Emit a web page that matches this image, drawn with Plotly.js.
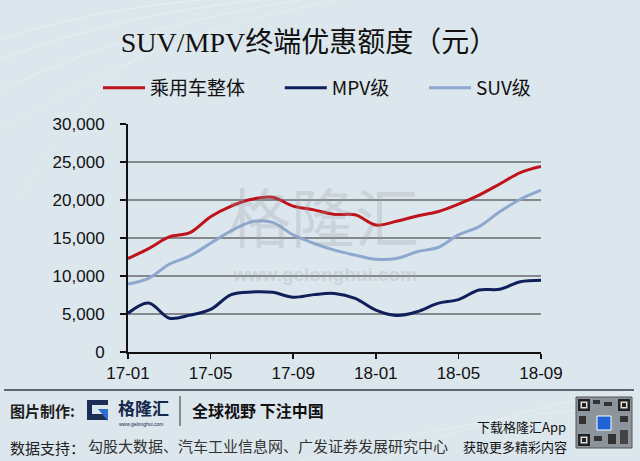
<!DOCTYPE html>
<html>
<head>
<meta charset="utf-8">
<script src="https://cdn.plot.ly/plotly-3.0.1.min.js"></script>
<style>
html,body{margin:0;padding:0;background:#dce6ed;}
#chart{width:640px;height:461px;}
</style>
</head>
<body>
<div id="chart"></div>
<script>
// ---- data ----
var months = ['17-01','17-02','17-03','17-04','17-05','17-06','17-07','17-08','17-09','17-10','17-11','17-12',
              '18-01','18-02','18-03','18-04','18-05','18-06','18-07','18-08','18-09'];
var tickLabels = ['17-01','17-05','17-09','18-01','18-05','18-09'];
var seriesNames = ['乘用车整体','MPV级','SUV级'];
var overall = [12300,13600,15150,15700,17800,19200,20100,20350,19200,18700,18100,18050,
               16700,17200,17900,18450,19450,20650,22100,23600,24400];
var mpv     = [5100,6450,4450,4850,5600,7550,7900,7850,7200,7550,7700,7050,
               5500,4800,5300,6400,6900,8150,8250,9250,9450];
var suv     = [8950,9700,11550,12650,14300,15950,17150,17050,15400,14300,13400,12750,
               12200,12300,13200,13750,15400,16500,18450,20100,21300];
var yTicks = [0,5000,10000,15000,20000,25000,30000];

var colors = ['#bf121b','#0f1f5a','#8ea7cf'];
var pad = '\u00A0\u00A0\u00A0\u00A0\u00A0\u00A0\u00A0';

function mk(name, y, c){
  return {x: months, y: y, name: name + pad, type:'scatter', mode:'lines',
          line:{color:c, width:3, shape:'spline', smoothing:1}};
}
var traces = [mk(seriesNames[0], overall, colors[0]),
              mk(seriesNames[1], mpv, colors[1]),
              mk(seriesNames[2], suv, colors[2])];

var L = 128, R = 541, T = 124, B = 352, W = 640, H = 461;
function px2paperX(px){ return (px - L)/(R - L); }
function px2paperY(py){ return (B - py)/(B - T); }

var cjk = '"Noto Sans CJK SC", "Noto Sans", sans-serif';
function note(x, y, text, size, color, anchor, family){
  return {xref:'paper', yref:'paper', x:px2paperX(x), y:px2paperY(y), xanchor:anchor||'left', yanchor:'middle',
          text:text, showarrow:false, font:{family:family||cjk, size:size, color:color}};
}
var annotations = [
  // watermark
  note(323, 214, '格隆汇', 64, 'rgba(150,158,166,0.26)', 'center'),
  note(324, 274, '<b>www.gelonghui.com</b>', 19, 'rgba(150,158,166,0.26)', 'center', '"Liberation Sans", Arial, sans-serif'),
  // footer
  note(8, 410, '<b>图片制作:</b>', 15, '#1e1e1e'),
  note(116, 407, '<b>格隆汇</b>', 17, '#14284e'),
  note(117, 424, 'www.gelonghui.com', 5, '#14284e', 'left', '"Liberation Sans", Arial'),
  note(190, 410, '<b>全球视野 下注中国</b>', 16, '#111'),
  note(8, 447, '数据支持：', 15, '#222'),
  note(86, 447, '勾股大数据、汽车工业信息网、广发证券发展研究中心', 15, '#333', 'left', '"Liberation Serif", "Noto Sans CJK SC", serif'),
  note(568, 426, '下载格隆汇App', 13, '#111', 'right'),
  note(569, 446, '获取更多精彩内容', 13, '#111', 'right')
];

function rect(x0,y0,x1,y1,fill,line){
  return {type:'rect', xref:'paper', yref:'paper', x0:px2paperX(x0), x1:px2paperX(x1), y0:px2paperY(y0), y1:px2paperY(y1),
          fillcolor:fill, line: line || {width:0}, layer:'above'};
}
function curve(x0,y0,cx1,cy1,cx2,cy2,x1,y1,col){
  function P(x,y){ return px2paperX(x)+' '+px2paperY(y); }
  return {type:'path', xref:'paper', yref:'paper', layer:'below',
          path:'M '+P(x0,y0)+' C '+P(cx1,cy1)+' '+P(cx2,cy2)+' '+P(x1,y1),
          line:{color:col, width:1}};
}
var shapes = [
  // background swooshes (decoration)
  curve(0,60, 80,30, 160,10, 260,0, 'rgba(255,255,255,0.35)'),
  curve(0,90, 90,50, 170,20, 300,0, 'rgba(255,255,255,0.30)'),
  curve(0,130, 100,70, 200,25, 340,0, 'rgba(255,255,255,0.25)'),
  curve(0,40, 60,20, 120,8, 200,0, 'rgba(255,255,255,0.35)'),
  curve(20,200, 60,120, 120,60, 220,0, 'rgba(255,255,255,0.20)'),
  curve(380,461, 480,420, 560,400, 640,390, 'rgba(255,255,255,0.30)'),
  curve(300,461, 420,430, 540,410, 640,405, 'rgba(255,255,255,0.25)'),
  // footer separator
  {type:'line', xref:'paper', yref:'paper', x0:px2paperX(4), x1:px2paperX(634), y0:px2paperY(390), y1:px2paperY(390),
   line:{color:'#5b6670', width:2}},
  // logo separator
  {type:'line', xref:'paper', yref:'paper', x0:px2paperX(180), x1:px2paperX(180), y0:px2paperY(396), y1:px2paperY(426),
   line:{color:'#333', width:1}},
  // logo square
  rect(87,420,108,400,'#1d2e55'),
  rect(92,414,108,405,'#dce6ed'),
  {type:'path', xref:'paper', yref:'paper', layer:'above',
   path:'M '+px2paperX(98)+' '+px2paperY(409)+' L '+px2paperX(108)+' '+px2paperY(409)+' L '+px2paperX(108)+' '+px2paperY(421)+' Z',
   fillcolor:'#2a6fd0', line:{width:0}},
  // QR code box
  rect(576,448,632,397,'#8d959c',{color:'#555', width:1}),
  rect(578,411,590,399,'#222'), rect(580.5,408.5,587.5,401.5,'#ddd'), rect(582,407,586,403,'#222'),
  rect(618,411,630,399,'#222'), rect(620.5,408.5,627.5,401.5,'#ddd'), rect(622,407,626,403,'#222'),
  rect(578,446,590,434,'#222'), rect(580.5,443.5,587.5,436.5,'#ddd'), rect(582,442,586,438,'#222'),
  rect(593,400,600,404,'#333'), rect(604,402,612,406,'#333'), rect(594,436,602,441,'#333'),
  rect(608,434,616,444,'#333'), rect(620,416,628,422,'#333'), rect(579,416,586,424,'#333'),
  rect(620,430,628,444,'#444'),
  rect(597,430,611,416,'#1f62d6',{color:'#fff', width:1})
];

var layout = {
  width: 640, height: 461,
  paper_bgcolor: '#dce6ed',
  plot_bgcolor: 'rgba(0,0,0,0)',
  margin: {l: L, r: W - R, t: T, b: H - B, pad: 0},
  title: {text: 'SUV/MPV终端优惠额度（元）', x: 309/640, xanchor:'center', y: 1 - 42/461, yanchor:'middle',
          font: {family: '"Liberation Serif", "Noto Sans CJK SC", serif', size: 28, color:'#111'}},
  showlegend: true,
  legend: {orientation:'h', x: px2paperX(98), xanchor:'left', y: px2paperY(88), yanchor:'middle',
           font:{family:cjk, size:19, color:'#111'}, itemwidth: 42, bgcolor:'rgba(0,0,0,0)',
           traceorder:'normal'},
  xaxis: {type:'category', range:[0, months.length-1], tickvals: tickLabels, ticktext: tickLabels,
          showline:true, linecolor:'#111', linewidth:2, ticks:'outside', ticklen:5, tickwidth:1.5, tickcolor:'#111',
          showgrid:false, zeroline:false, tickfont:{family:'"Liberation Sans", Arial, sans-serif', size:17, color:'#111'},
          fixedrange:true},
  yaxis: {range:[0, 30000], tickvals: yTicks, tickformat:',', showline:true, linecolor:'#111', linewidth:2,
          ticks:'outside', ticklen:6, tickwidth:1.5, tickcolor:'#111',
          showgrid:true, gridcolor:'#85898e', gridwidth:1.5, zeroline:false,
          tickfont:{family:'"Liberation Sans", Arial, sans-serif', size:17, color:'#111'}, ticklabelstandoff: 12,
          fixedrange:true},
  annotations: annotations,
  shapes: shapes
};

Plotly.newPlot('chart', traces, layout, {displayModeBar:false, staticPlot:true});
</script>
</body>
</html>
